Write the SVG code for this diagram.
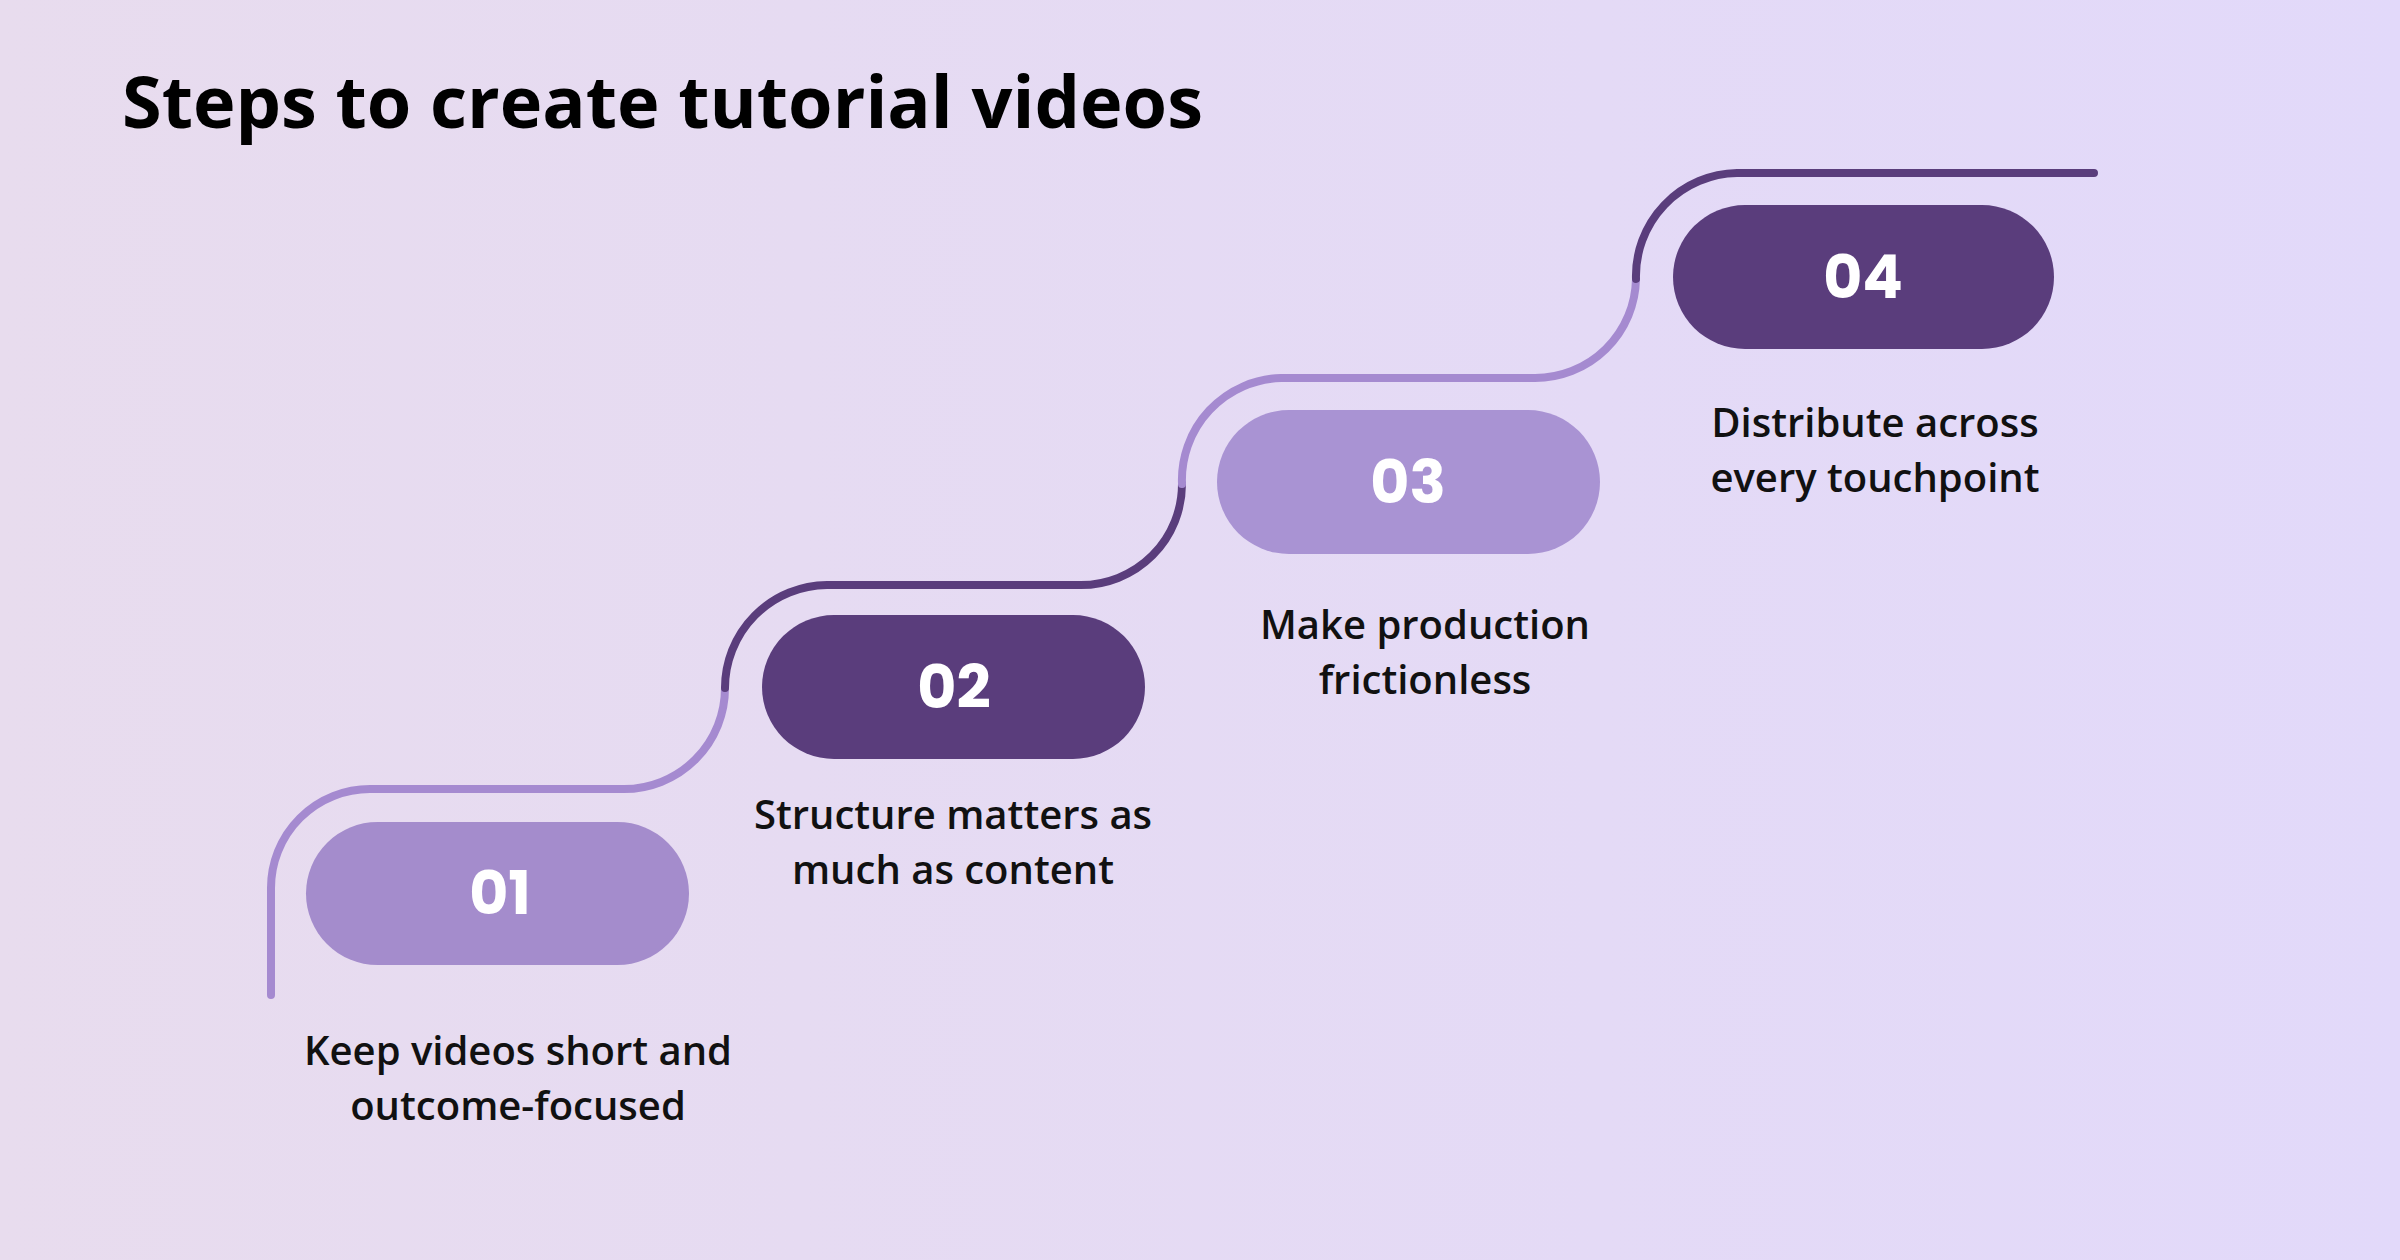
<svg xmlns="http://www.w3.org/2000/svg" width="2400" height="1260" viewBox="0 0 2400 1260">
<defs>
<linearGradient id="bg" x1="0" y1="0" x2="1" y2="0">
<stop offset="0" stop-color="#e8dcee"/><stop offset="1" stop-color="#e2d9fa"/>
</linearGradient>
<style>
.num{font-family:"Poppins","Open Sans","Liberation Sans",sans-serif;font-weight:700;font-size:60px;fill:#fff;text-anchor:middle}
.lab{font-family:"Open Sans","Liberation Sans",sans-serif;font-weight:600;font-size:40px;fill:#111;text-anchor:middle}
.light{fill:#a48ccc}.dark{fill:#5a3d7c}
.pl{fill:none;stroke-width:8;stroke-linecap:round}
</style>
</defs>
<rect width="2400" height="1260" fill="url(#bg)"/>
<text x="122" y="128" font-family="Open Sans, Liberation Sans, sans-serif" font-weight="700" font-size="72" fill="#000">Steps to create tutorial videos</text>
<g id="connectors">
<path class="pl" stroke="#a58ad0" d="M271,995 V888 A99,99 0 0 1 370,789 H624 A101,101 0 0 0 725,688"/>
<path class="pl" stroke="#5a3d7c" d="M725,688 A103,103 0 0 1 827,585 H1081 A101,101 0 0 0 1182,484"/>
<path class="pl" stroke="#a58ad0" d="M1182,484 A102,102 0 0 1 1281,378 H1535 A101,101 0 0 0 1636,279"/>
<path class="pl" stroke="#5a3d7c" d="M1636,279 A103,103 0 0 1 1737,173 H2094"/>
</g>
<g id="step1"><rect class="light" x="306" y="822" width="383" height="143" rx="71.5"/>
<text class="num" x="500" y="914">01</text>
<text class="lab" x="518" y="1065">Keep videos short and</text><text class="lab" x="518" y="1120">outcome-focused</text></g>
<g id="step2"><rect class="dark" x="762" y="615" width="383" height="144" rx="72"/>
<text class="num" x="954" y="708">02</text>
<text class="lab" x="953" y="829">Structure matters as</text><text class="lab" x="953" y="884">much as content</text></g>
<g id="step3"><rect fill="#a993d3" x="1217" y="410" width="383" height="144" rx="72"/>
<text class="num" x="1408" y="503">03</text>
<text class="lab" x="1425" y="639">Make production</text><text class="lab" x="1425" y="694">frictionless</text></g>
<g id="step4"><rect class="dark" x="1673" y="205" width="381" height="144" rx="72"/>
<text class="num" x="1863" y="298">04</text>
<text class="lab" x="1875" y="437">Distribute across</text><text class="lab" x="1875" y="492">every touchpoint</text></g>
</svg>
